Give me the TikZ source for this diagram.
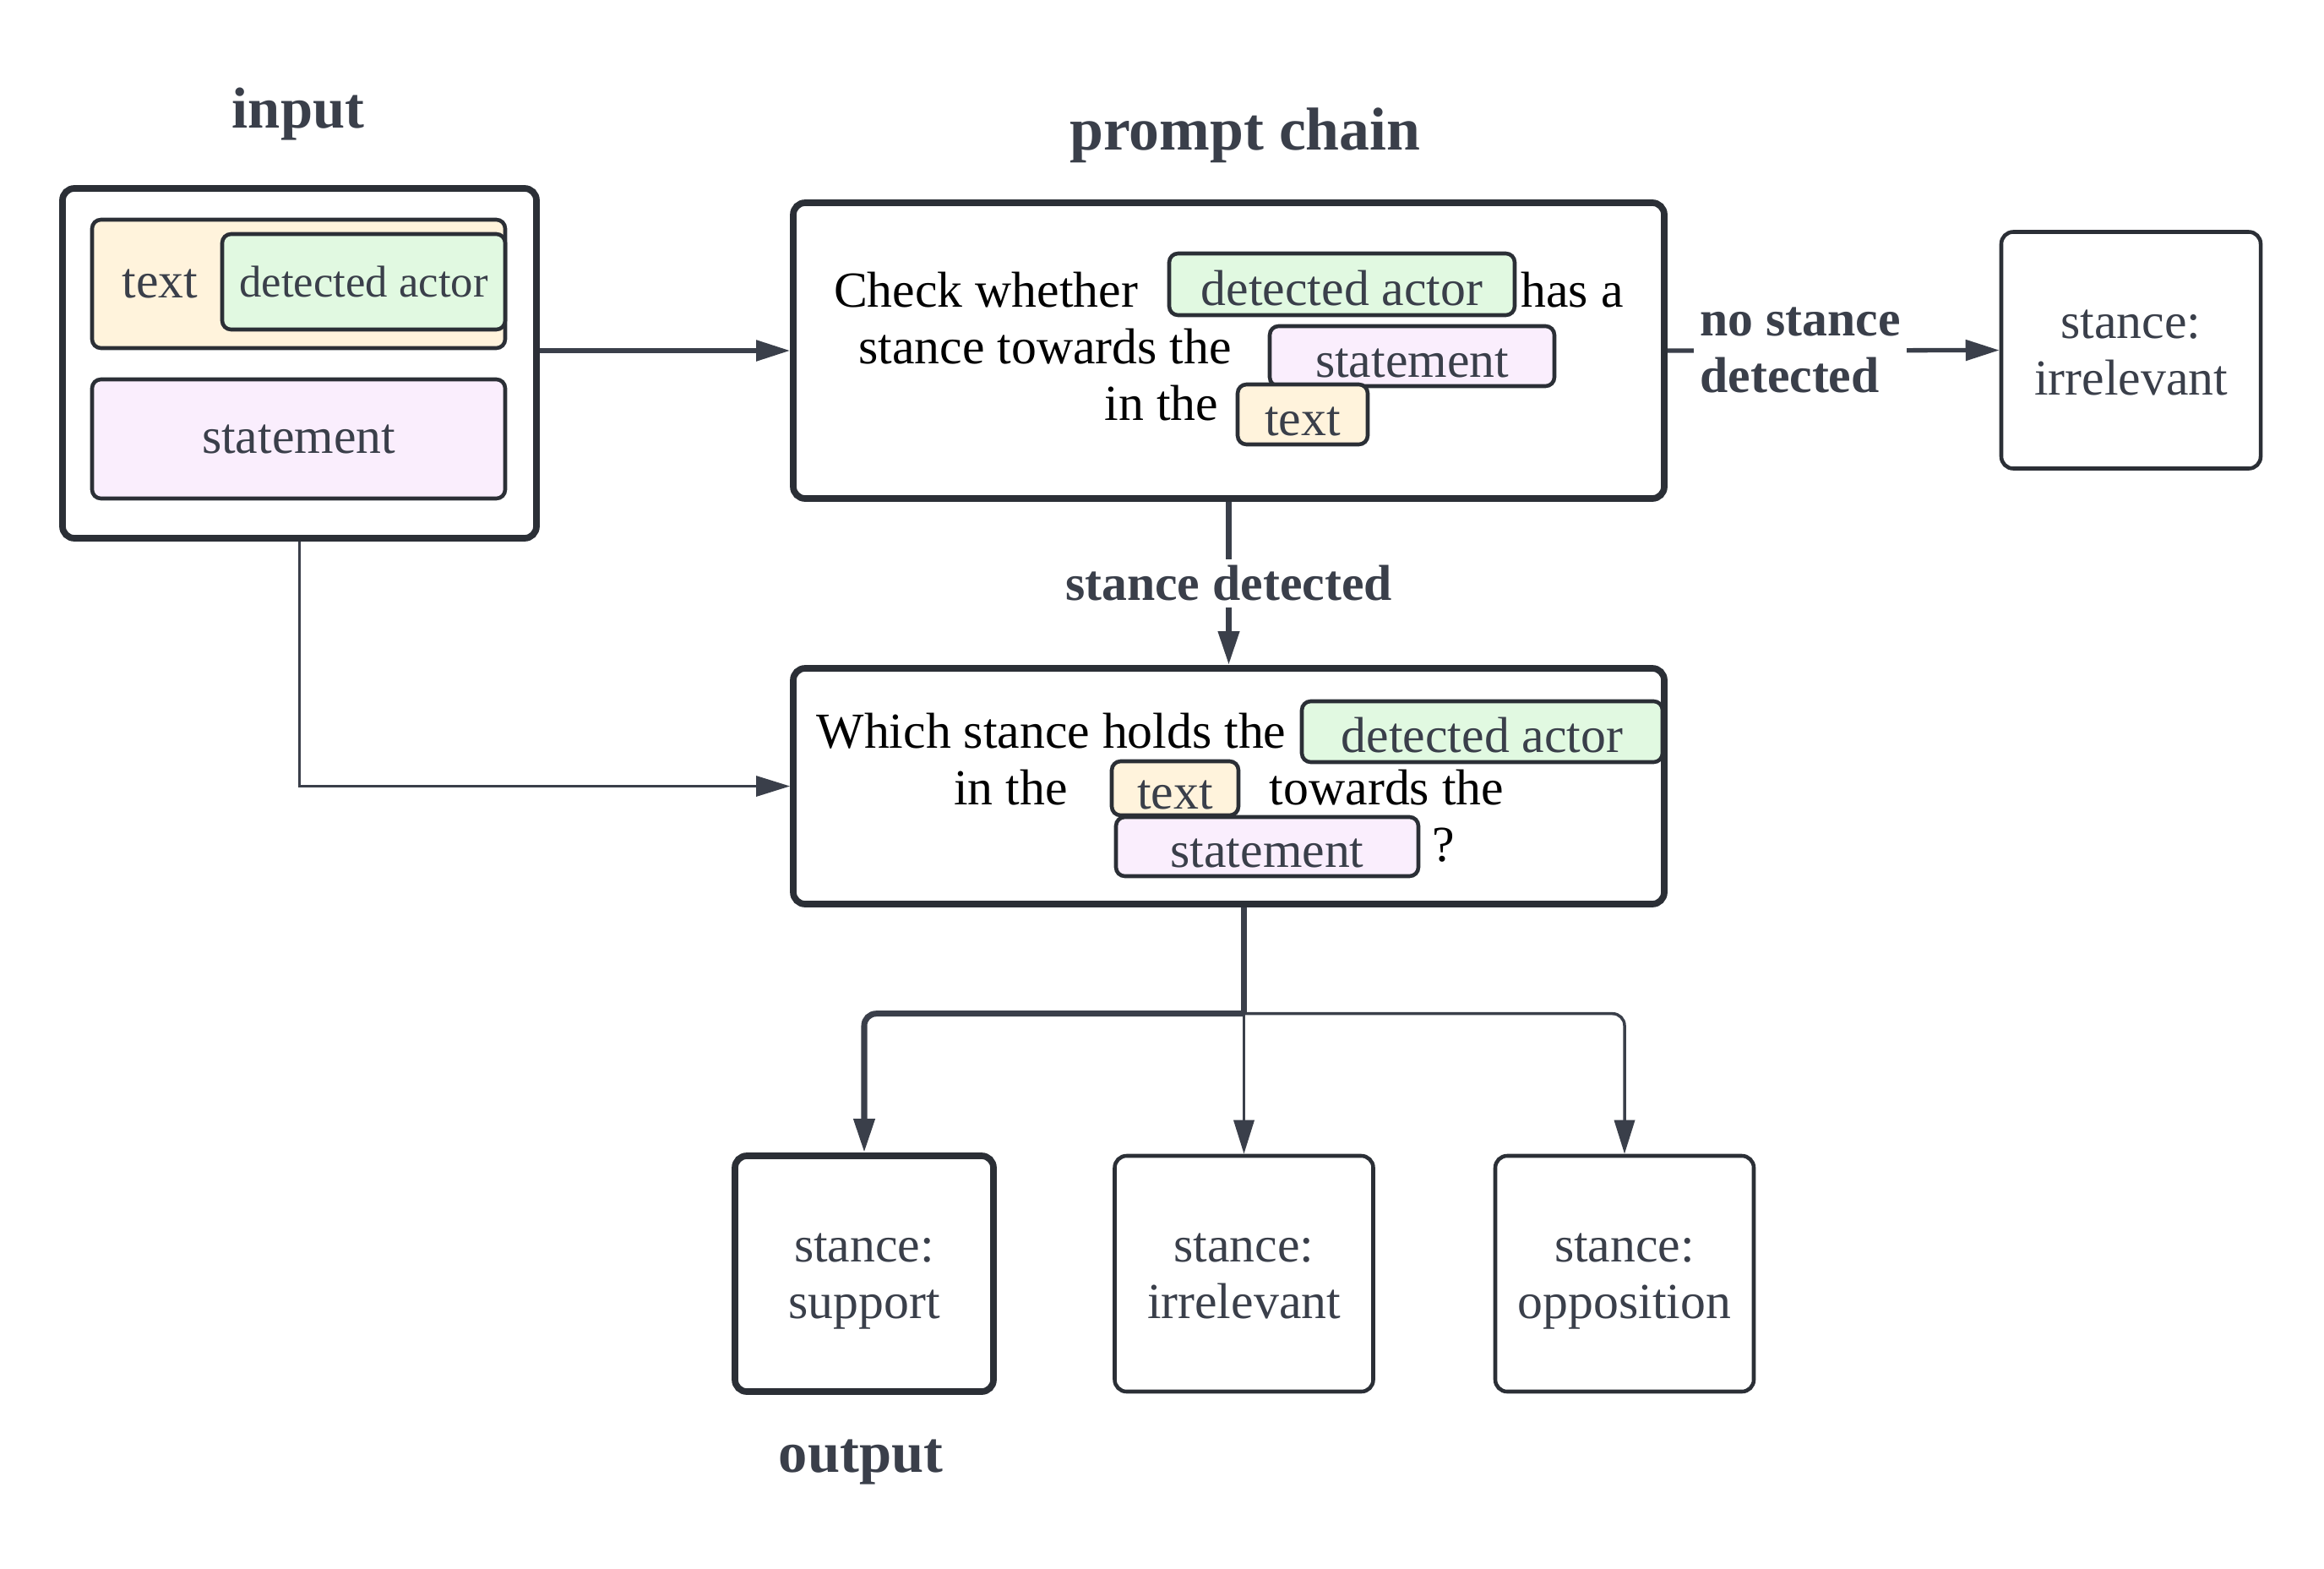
\documentclass[tikz,border=0pt]{standalone}
\usepackage{fontspec}
\setmainfont{Liberation Serif}
\usetikzlibrary{arrows.meta,positioning,calc}

\definecolor{edge}{HTML}{2B2F36}
\definecolor{ink}{HTML}{3A3F4A}
\definecolor{textfill}{HTML}{FFF3DC}
\definecolor{actorfill}{HTML}{E1F9E1}
\definecolor{stmtfill}{HTML}{FAEEFD}

\newcommand{\promptsize}{\fontsize{17}{19}\selectfont}
\newcommand{\actorsize}{\fontsize{15}{17}\selectfont}
\newcommand{\headsize}{\fontsize{19.5}{22}\selectfont\bfseries}

\begin{document}
\begin{tikzpicture}[
    bigbox/.style={draw=edge, line width=2.2pt, rounded corners=4pt, inner sep=0pt},
    outbox/.style={draw=edge, line width=1.3pt, rounded corners=4pt, minimum width=3.06cm,
      minimum height=2.79cm, align=center, text=ink, font=\promptsize, text height=35pt, text depth=5pt},
    tag/.style={draw=edge, line width=1.3pt, rounded corners=3pt, inner sep=0pt, text=ink, font=\promptsize},
    inline/.style={tag, text height=14pt, text depth=0pt},
    title/.style={font=\headsize, text=ink, anchor=base},
    prompt/.style={font=\promptsize, anchor=base, inner sep=0pt},
    flow/.style={draw=ink, line width=1.5pt, -{Triangle[length=4mm,width=2.4mm]}},
    lbl/.style={font=\promptsize\bfseries, text=ink, fill=white, align=left, inner sep=2pt}
  ]
  \useasboundingbox (0,0) rectangle (27.51,-18.56);

  % input
  \node[title] at (3.53,-1.51) {input};
  \node[bigbox, minimum width=5.61cm, minimum height=4.14cm] (inbox) at (3.545,-4.30) {};
  \node[tag, fill=textfill, minimum width=4.89cm, minimum height=1.52cm] (intext) at (3.535,-3.36) {};
  \node[font=\promptsize, text=ink, anchor=west, inner sep=0pt] at ([xshift=3.7mm]intext.west) {text};
  \node[tag, fill=actorfill, minimum width=3.35cm, minimum height=1.13cm, font=\actorsize] (inactor) at (4.305,-3.335) {detected actor};
  \node[tag, fill=stmtfill, minimum width=4.89cm, minimum height=1.41cm] (instmt) at (3.535,-5.195) {statement};

  % prompt chain
  \node[title, font=\fontsize{20.4}{22}\selectfont\bfseries] at (14.74,-1.77) {prompt chain};
  \node[bigbox, minimum width=10.31cm, minimum height=3.50cm] (check) at (14.545,-4.15) {};
  \node[prompt] at (11.67,-3.63) {Check whether};
  \node[inline, fill=actorfill, minimum width=4.09cm, minimum height=0.73cm] (chkactor) at (15.885,-3.365) {detected actor};
  \node[prompt] at (18.61,-3.63) {has a};
  \node[prompt] at (12.37,-4.30) {stance towards the};
  \node[inline, fill=stmtfill, minimum width=3.37cm, minimum height=0.71cm] (chkstmt) at (16.715,-4.215) {statement};
  \node[prompt] at (13.75,-4.97) {in the};
  \node[inline, fill=textfill, minimum width=1.54cm, minimum height=0.71cm] (chktext) at (15.42,-4.905) {text};

  \node[bigbox, minimum width=10.31cm, minimum height=2.79cm] (which) at (14.545,-9.305) {};
  \node[prompt] at (12.445,-8.85) {Which stance holds the};
  \node[inline, fill=actorfill, minimum width=4.27cm, minimum height=0.72cm] (whactor) at (17.545,-8.66) {detected actor};
  \node[prompt] at (11.965,-9.52) {in the};
  \node[inline, fill=textfill, minimum width=1.50cm, minimum height=0.64cm] (whtext) at (13.91,-9.33) {text};
  \node[prompt] at (16.415,-9.52) {towards the};
  \node[inline, fill=stmtfill, minimum width=3.58cm, minimum height=0.70cm] (whstmt) at (15.00,-10.02) {statement};
  \node[prompt] at (17.09,-10.19) {?};

  % results
  \node[outbox, minimum width=3.07cm, minimum height=2.80cm] (noout) at (25.225,-4.145) {stance:\\irrelevant};
  \node[outbox, line width=2.2pt] (supout) at (10.23,-15.075) {stance:\\support};
  \node[outbox] (midout) at (14.725,-15.075) {stance:\\irrelevant};
  \node[outbox] (oppout) at (19.23,-15.075) {stance:\\opposition};
  \node[title] at (10.19,-17.42) {output};

  % connectors
  \draw[flow] (inbox.east |- check.west) -- (check.west);
  \draw[flow] (check.east) -- node[lbl, pos=0.4] {no stance\\detected} (noout.west);
  \draw[flow, line width=2pt] (check.south) -- node[lbl] {stance detected} (which.north);
  \draw[flow, line width=0.9pt] (inbox.south) |- (which.west);
  \path (midout.north) ++(0,1.66) coordinate (split);
  \draw[draw=ink, line width=2pt] (which.south -| split) -- (split);
  \draw[flow, line width=2pt, rounded corners=4pt] (split) -| (supout.north);
  \draw[flow, line width=1pt] (split) -- (midout.north);
  \draw[flow, line width=1pt, rounded corners=4pt] (split) -| (oppout.north);
\end{tikzpicture}
\end{document}
